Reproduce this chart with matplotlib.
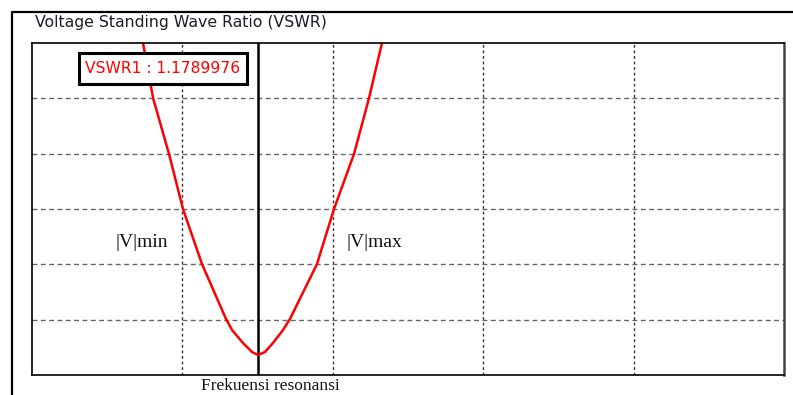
import matplotlib
matplotlib.use("Agg")
import matplotlib.pyplot as plt
from matplotlib.lines import Line2D
from matplotlib.patches import Rectangle

# curve (arbitrary grid units: 5 x-divisions, 6 y-divisions)
freq = [0.738, 0.805, 0.911, 1.004, 1.130, 1.290, 1.330, 1.403, 1.463, 1.503,
        1.549, 1.602, 1.669, 1.715, 1.895, 2.008, 2.141, 2.241, 2.327]
vswr = [6.0, 5.006, 3.994, 3.0, 2.006, 1.012, 0.813, 0.578, 0.416, 0.361,
        0.416, 0.578, 0.813, 1.012, 2.006, 3.0, 3.994, 5.006, 6.0]
f_res = 1.503
vswr_label = "VSWR1 : 1.1789976"
title = "Voltage Standing Wave Ratio (VSWR)"

W, H = 793, 395
fig = plt.figure(figsize=(W / 100, H / 100), dpi=100)

# outer frame (left + top only, runs off the image)
fig.add_artist(Line2D([12 / W, 12 / W, 1], [0, 1 - 12 / H, 1 - 12 / H],
                      transform=fig.transFigure, color="black", lw=1.6))

ax = fig.add_axes([32 / W, (H - 375) / H, 752 / W, 332 / H])
ax.set_xlim(0, 5)
ax.set_ylim(0, 6)
ax.set_xticks([1, 2, 3, 4])
ax.set_yticks([1, 2, 3, 4, 5])
ax.tick_params(length=0, labelbottom=False, labelleft=False)
ax.grid(axis="x", linestyle=(0, (2, 2)), color="#333333", lw=1.0)
ax.grid(axis="y", linestyle=(0, (3.5, 2.5)), color="#666666", lw=1.0)
for s in ax.spines.values():
    s.set_linewidth(1.2)
ax.spines["right"].set_color("#444444")
ax.spines["right"].set_linewidth(1.8)

ax.axvline(f_res, color="black", lw=1.8)
ax.plot(freq, vswr, color="red", lw=1.8, solid_joinstyle="round")

fig.text(35 / W, 1 - 22 / H, title, fontsize=11.3, color="#1c1c28",
         ha="left", va="center", family="DejaVu Sans")

# marker readout box
fig.add_artist(Rectangle((79 / W, 1 - 84 / H), 168 / W, 31 / H,
                         transform=fig.transFigure, fc="white", ec="black",
                         lw=2.2, zorder=5))
fig.text(163 / W, 1 - 68.5 / H, vswr_label, fontsize=11.2, color="red",
         ha="center", va="center", family="DejaVu Sans", zorder=6)

fig.text(142 / W, 1 - 243 / H, "|V|min", fontsize=14, family="Liberation Serif",
         ha="center", va="center", color="#111111")
fig.text(374 / W, 1 - 243 / H, "|V|max", fontsize=14, family="Liberation Serif",
         ha="center", va="center", color="#111111")
fig.text(270 / W, 1 - 386 / H, "Frekuensi resonansi", fontsize=12.5,
         family="Liberation Serif", ha="center", va="center", color="#111111")

fig.savefig("out.png", dpi=100)
